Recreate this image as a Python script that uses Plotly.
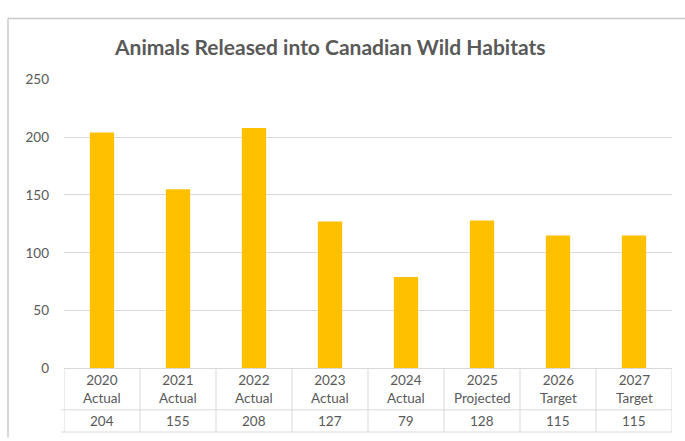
import plotly.graph_objects as go

years = ["2020", "2021", "2022", "2023", "2024", "2025", "2026", "2027"]
kinds = ["Actual", "Actual", "Actual", "Actual", "Actual", "Projected", "Target", "Target"]
released = [204, 155, 208, 127, 79, 128, 115, 115]
y_ticks = [0, 50, 100, 150, 200, 250]

W, H = 685, 441
TXT = "#595959"
GRID = "#D9D9D9"
FONT = "Lato"

def py(p):
    return 1 - p / H

x_pos = list(range(len(years)))
fig = go.Figure(go.Bar(x=x_pos, y=released, marker_color="#FFC000", width=0.32,
                       marker_line_width=0, hoverinfo="skip"))

shapes = []
# outer chart border
shapes.append(dict(type="line", xref="paper", yref="paper", x0=8/W, x1=1.01, y0=py(11), y1=py(11),
                   line=dict(color="#C8C8C8", width=1.5)))
shapes.append(dict(type="line", xref="paper", yref="paper", x0=8/W, x1=8/W, y0=py(11), y1=-0.01,
                   line=dict(color="#C8C8C8", width=1.5)))
# data table lines
for i in range(len(years) + 1):
    shapes.append(dict(type="line", xref="x", yref="paper", x0=i - 0.5, x1=i - 0.5,
                       y0=py(374), y1=py(440), line=dict(color=GRID, width=1)))
shapes.append(dict(type="line", xref="paper", yref="paper", x0=61/W, x1=672/W, y0=py(417), y1=py(417),
                   line=dict(color=GRID, width=1)))
shapes.append(dict(type="line", xref="paper", yref="paper", x0=61/W, x1=672/W, y0=py(440), y1=py(440),
                   line=dict(color=GRID, width=1)))

annotations = [dict(text="Animals Released into Canadian Wild Habitats", xref="paper", yref="paper",
                    x=330/W, y=py(40), showarrow=False, xanchor="center", yanchor="middle",
                    font=dict(family=FONT, size=21, color=TXT, weight="bold"))]
for i, (yr, k, v) in enumerate(zip(years, kinds, released)):
    annotations.append(dict(text=f"{yr}<br>{k}", xref="x", yref="paper", x=i, y=py(395),
                            showarrow=False, xanchor="center", yanchor="middle",
                            font=dict(family=FONT, size=13.5, color=TXT)))
    annotations.append(dict(text=str(v), xref="x", yref="paper", x=i, y=py(429),
                            showarrow=False, xanchor="center", yanchor="middle",
                            font=dict(family=FONT, size=13.5, color=TXT)))

fig.update_layout(
    width=W, height=H, margin=dict(l=0, r=0, t=0, b=0),
    paper_bgcolor="white", plot_bgcolor="white", showlegend=False,
    xaxis=dict(domain=[64/W, 672/W], range=[-0.5, len(years) - 0.5], showticklabels=False,
               showgrid=False, zeroline=False, showline=True, linecolor=GRID, linewidth=1,
               fixedrange=True),
    yaxis=dict(domain=[py(374), py(74)], range=[0, 250], tickvals=y_ticks, showgrid=True,
               gridcolor=GRID, gridwidth=1, zeroline=False, showline=False, ticks="",
               ticklabelstandoff=14, tickfont=dict(family=FONT, size=13.5, color=TXT)),
    shapes=shapes, annotations=annotations,
)
post = (
    "document.documentElement.style.overflow='hidden';"
    "document.body.style.margin='0';"
    "document.body.style.overflow='hidden';"
    "var g=document.getElementById('{plot_id}');"
    "g.style.position='fixed';g.style.top='0px';g.style.left='0px';"
)
fig.write_html("out.html", config={"responsive": False, "displayModeBar": False},
               post_script=post)
